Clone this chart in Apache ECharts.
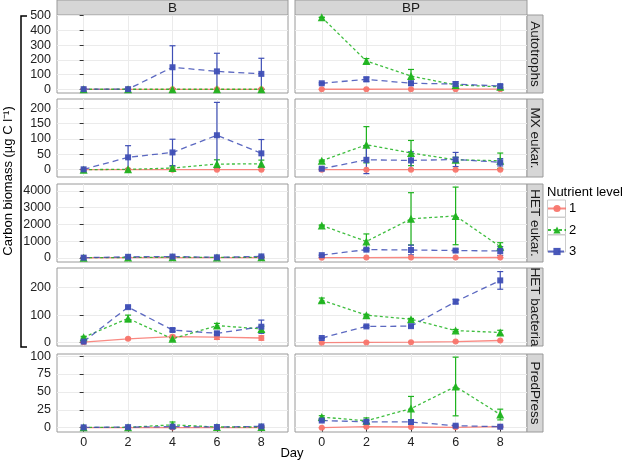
<!DOCTYPE html>
<html><head><meta charset="utf-8">
<script src="https://cdn.jsdelivr.net/npm/echarts@6/dist/echarts.min.js"></script>
<style>html,body{margin:0;padding:0;background:#fff}#c{width:625px;height:461px}</style>
</head><body><div id="c"></div>
<script>
// ---------- data ----------
const days = [0, 2, 4, 6, 8];
const treatments = ['B', 'BP'];
const variables = ['Autotrophs', 'MX eukar.', 'HET eukar.', 'HET bacteria', 'PredPress'];
const levels = ['1', '2', '3'];

// means [level1, level2, level3], sd likewise
const autotrophsB = [[0, 0, 0, 0, 0], [0.3, 0.4, 0.6, 0.5, 0.6], [1, 1, 150, 122, 105]];
const autotrophsB_sd = [[0, 0, 0, 0, 0], [0, 0, 0, 0, 0], [1, 1, 146, 123, 106]];
const autotrophsBP = [[0.5, 0.6, 0.8, 1, 1], [489, 192, 90, 30, 17], [41, 68, 41, 36, 22]];
const autotrophsBP_sd = [[0.3, 0.3, 0.3, 0.3, 0.3], [1, 17, 45, 8, 5], [5, 15, 14, 15, 10]];

const mxB = [[0, 0, 0, 0, 0], [0, 1, 5, 18, 19], [1, 40, 56, 112, 53]];
const mxB_sd = [[0, 0, 0, 0, 0], [0, 1, 4, 14, 12], [1, 38, 43, 107, 45]];
const mxBP = [[0, 0, 0, 0, 0], [29, 81, 54, 32, 29], [3, 32, 30, 33, 24]];
const mxBP_sd = [[0, 0, 0, 0, 0], [2, 59, 41, 8, 25], [2, 45, 28, 23, 12]];

const hetEukB = [[5, 10, 15, 10, 10], [5, 20, 40, 20, 30], [10, 60, 75, 30, 85]];
const hetEukB_sd = [[2, 3, 5, 3, 4], [5, 10, 20, 10, 15], [5, 20, 25, 15, 30]];
const hetEukBP = [[10, 15, 20, 15, 20], [1940, 980, 2335, 2510, 670], [160, 490, 470, 435, 410]];
const hetEukBP_sd = [[2, 3, 4, 3, 5], [30, 450, 1565, 1725, 235], [20, 60, 290, 80, 260]];

const hetBacB = [[2, 14, 22, 20, 17], [20, 88, 14, 62, 50], [4, 129, 46, 34, 58]];
const hetBacB_sd = [[1, 3, 5, 8, 8], [3, 12, 5, 8, 10], [1, 4, 5, 5, 24]];
const hetBacBP = [[0, 1, 2, 4, 8], [154, 100, 85, 44, 37], [17, 59, 60, 149, 226]];
const hetBacBP_sd = [[0.5, 0.5, 0.5, 1, 1], [8, 3, 3, 4, 8], [2, 3, 3, 8, 32]];

const predB = [[0, 0, 0.2, 0.2, 0.2], [0.5, 0.5, 4, 1, 1], [0.5, 0.8, 1.5, 1, 1.8]];
const predB_sd = [[0, 0, 0.2, 0.2, 0.2], [0.3, 0.5, 4, 1, 1], [0.3, 0.5, 1, 0.5, 1]];
const predBP = [[0, 1.4, 1, 0.5, 1.4], [14.8, 9.7, 26.7, 57.6, 18.4], [10, 8.3, 8, 2.8, 1.4]];
const predBP_sd = [[0.3, 0.5, 0.5, 0.3, 0.5], [2, 4, 17, 41, 7.5], [1, 2, 3, 1, 1]];

// y-axis tick labels per row
const yTicks = [
  [0, 100, 200, 300, 400, 500],
  [0, 50, 100, 150, 200],
  [0, 1000, 2000, 3000, 4000],
  [0, 100, 200],
  [0, 25, 50, 75, 100]
];
const xTicks = [0, 2, 4, 6, 8];

// ---------- layout / styles ----------
const yRange = [[-25, 505], [-24, 230], [-250, 4420], [-12, 271], [-6, 103]];
const rowTop = [15, 99, 184, 268, 354];
const rowH = 78;
const colLeft = [57, 295];
const colW = [231, 232];
const colors = ['#F8766D', '#1DB31D', '#3F4FB6'];
const symbols = ['circle', 'triangle', 'rect'];
const symbolSizes = [6, 8, 6];
const dashes = ['solid', [3, 2.5], [6, 4]];

const means = [[autotrophsB, autotrophsBP], [mxB, mxBP], [hetEukB, hetEukBP], [hetBacB, hetBacBP], [predB, predBP]];
const sds = [[autotrophsB_sd, autotrophsBP_sd], [mxB_sd, mxBP_sd], [hetEukB_sd, hetEukBP_sd], [hetBacB_sd, hetBacBP_sd], [predB_sd, predBP_sd]];

const FONT = 'Liberation Sans, Arial, sans-serif';
const grids = [], xAxes = [], yAxes = [], series = [], graphics = [];
const plain = v => String(v);

for (let r = 0; r < 5; r++) {
  for (let c = 0; c < 2; c++) {
    const gi = r * 2 + c;
    grids.push({
      left: colLeft[c], top: rowTop[r], width: colW[c], height: rowH,
      show: true, backgroundColor: '#fff', borderColor: '#9a9a9a', borderWidth: 1
    });
    const bottom = r === 4;
    xAxes.push({
      type: 'value', gridIndex: gi, min: -1.2, max: 9.2,
      axisLine: { show: false },
      axisTick: { show: bottom, length: 4, customValues: xTicks, lineStyle: { color: '#333' } },
      axisLabel: { show: bottom, customValues: xTicks, formatter: plain, fontSize: 12.5, color: '#222', margin: 4, fontFamily: FONT },
      splitLine: { show: true, customValues: xTicks, lineStyle: { color: '#EBEBEB', width: 1 } }
    });
    const left = c === 0;
    yAxes.push({
      type: 'value', gridIndex: gi, min: yRange[r][0], max: yRange[r][1],
      axisLine: { show: false },
      axisTick: { show: left, length: 4, customValues: yTicks[r], lineStyle: { color: '#333' } },
      axisLabel: { show: left, customValues: yTicks[r], formatter: plain, fontSize: 12.5, color: '#222', margin: 6, fontFamily: FONT },
      splitLine: { show: true, customValues: yTicks[r], lineStyle: { color: '#EBEBEB', width: 1 } }
    });
    for (let k = 0; k < 3; k++) {
      const m = means[r][c][k], s = sds[r][c][k];
      const col = colors[k];
      series.push({
        type: 'custom', name: 'err' + k, xAxisIndex: gi, yAxisIndex: gi,
        silent: true, animation: false, z: 2,
        data: days.map((d, i) => [d, m[i] - s[i], m[i] + s[i]]),
        renderItem: (params, api) => {
          const x = api.value(0);
          const p1 = api.coord([x, api.value(1)]);
          const p2 = api.coord([x, api.value(2)]);
          const w = 3;
          const st = { stroke: col, lineWidth: 1.2 };
          return {
            type: 'group', children: [
              { type: 'line', shape: { x1: p1[0], y1: p1[1], x2: p2[0], y2: p2[1] }, style: st },
              { type: 'line', shape: { x1: p1[0] - w, y1: p1[1], x2: p1[0] + w, y2: p1[1] }, style: st },
              { type: 'line', shape: { x1: p2[0] - w, y1: p2[1], x2: p2[0] + w, y2: p2[1] }, style: st }
            ]
          };
        }
      });
      series.push({
        type: 'line', name: levels[k], xAxisIndex: gi, yAxisIndex: gi,
        animation: false, silent: true, z: 3,
        data: days.map((d, i) => [d, m[i]]),
        symbol: symbols[k], symbolSize: symbolSizes[k], showSymbol: true,
        itemStyle: { color: col, opacity: 0.95 },
        lineStyle: { color: col, width: 1.3, type: dashes[k], opacity: 0.85 }
      });
    }
  }
}

// strips (facet labels)
for (let c = 0; c < 2; c++) {
  graphics.push({ type: 'rect', shape: { x: colLeft[c], y: 0, width: colW[c], height: 15 },
    style: { fill: '#D6D6D6', stroke: '#9a9a9a', lineWidth: 1 } });
  graphics.push({ type: 'text', x: colLeft[c] + colW[c] / 2, y: 8,
    style: { text: treatments[c], fontSize: 13.5, fontFamily: FONT, fill: '#1a1a1a', align: 'center', verticalAlign: 'middle' } });
}
const stripX = colLeft[1] + colW[1];
for (let r = 0; r < 5; r++) {
  graphics.push({ type: 'rect', shape: { x: stripX, y: rowTop[r], width: 16, height: rowH },
    style: { fill: '#D6D6D6', stroke: '#9a9a9a', lineWidth: 1 } });
  graphics.push({ type: 'text', x: stripX + 8, y: rowTop[r] + rowH / 2, rotation: -Math.PI / 2,
    style: { text: variables[r], fontSize: 13.5, fontFamily: FONT, fill: '#1a1a1a', align: 'center', verticalAlign: 'middle' } });
}
// y-axis title and bracket
graphics.push({ type: 'text', x: 8, y: 181, rotation: Math.PI / 2,
  style: { text: 'Carbon biomass (µg C l⁻¹)', fontSize: 13, fontFamily: FONT, fill: '#000', align: 'center', verticalAlign: 'middle' } });
graphics.push({ type: 'polyline', shape: { points: [[27, 16], [21, 16], [21, 347], [27, 347]] },
  style: { stroke: '#000', lineWidth: 1.5, fill: null } });
// x-axis title
graphics.push({ type: 'text', x: 292, y: 453,
  style: { text: 'Day', fontSize: 13, fontFamily: FONT, fill: '#000', align: 'center', verticalAlign: 'middle' } });
// legend title and key boxes
graphics.push({ type: 'text', x: 547, y: 192,
  style: { text: 'Nutrient level', fontSize: 13, fontFamily: FONT, fill: '#000', align: 'left', verticalAlign: 'middle' } });
for (let k = 0; k < 3; k++) {
  graphics.push({ type: 'rect', z: -1, shape: { x: 547.5, y: 200 + k * 17.5, width: 18, height: 17 },
    style: { fill: '#fff', stroke: '#cccccc', lineWidth: 1 } });
}

const chart = echarts.init(document.getElementById('c'), null, { renderer: 'canvas' });
chart.setOption({
  backgroundColor: '#fff',
  animation: false,
  textStyle: { fontFamily: FONT },
  grid: grids, xAxis: xAxes, yAxis: yAxes, series: series,
  legend: {
    data: levels, orient: 'vertical', left: 547, top: 202,
    itemWidth: 18, itemHeight: 9, itemGap: 8.5, padding: 0,
    textStyle: { fontSize: 13, color: '#000', fontFamily: FONT, padding: [0, 0, 0, -2] },
    selectedMode: false
  },
  graphic: graphics
});
</script></body></html>
